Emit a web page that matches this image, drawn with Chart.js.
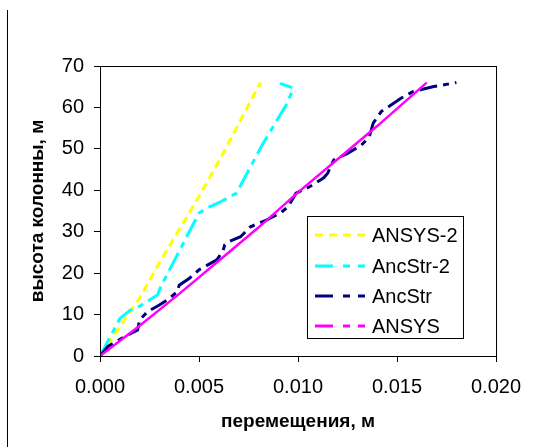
<!DOCTYPE html>
<html>
<head>
<meta charset="utf-8">
<script src="https://cdn.jsdelivr.net/npm/chart.js@4/dist/chart.umd.min.js"></script>
<style>
  body { margin: 0; background: #fff; }
  #wrap { width: 557px; height: 447px; }
</style>
</head>
<body>
<div id="wrap"><canvas id="myChart" width="557" height="447"></canvas></div>
<script>
// ------------------ DATA ------------------
const seriesNames = ['ANSYS-2', 'AncStr-2', 'AncStr', 'ANSYS'];

// ANSYS-2
const ansys2X = [0, 0.001, 0.002, 0.003, 0.004, 0.005, 0.006, 0.007, 0.0081];
const ansys2Y = [0, 7, 14, 22.5, 30.5, 38.5, 47, 56, 66];

// AncStr-2
const ancstr2X = [0, 0.001, 0.0015, 0.002, 0.0026, 0.0029, 0.0031, 0.005, 0.0054, 0.006, 0.0069, 0.0073, 0.0082, 0.0094, 0.0097, 0.00975, 0.0091];
const ancstr2Y = [0, 9, 11, 12, 13.8, 14.7, 17, 34.5, 35.7, 37, 39.3, 43, 51, 60.6, 63.8, 64.7, 65.8];

// AncStr
const ancstrX = [0, 0.0004, 0.0011, 0.0019, 0.002, 0.0024, 0.003, 0.0035, 0.0039, 0.004, 0.0045, 0.005, 0.0059, 0.0062, 0.0063, 0.0065, 0.0071, 0.0076, 0.0084, 0.0091, 0.0095, 0.0099, 0.0106, 0.0113, 0.0115, 0.0118, 0.0125, 0.0132, 0.0136, 0.0138, 0.0142, 0.0152, 0.0158, 0.0168, 0.018];
const ancstrY = [0, 2.3, 4.3, 6.3, 8.7, 10.7, 12.3, 13.9, 15.5, 17.1, 18.7, 20.8, 23.2, 25.2, 26.8, 27.6, 28.8, 31.2, 32.8, 34.5, 36, 39.3, 40.9, 43, 44.1, 47.3, 48.9, 50.9, 52.9, 56.2, 59, 62.2, 63.8, 65, 66];

// ANSYS
const ansysX = [0, 0.002, 0.004, 0.006, 0.008, 0.010, 0.012, 0.014, 0.0165];
const ansysY = [0, 7.3, 15, 23, 31, 39.5, 47.5, 55.5, 66];

// axis ranges
const xMin = 0, xMax = 0.02, xStep = 0.005;
const yMin = 0, yMax = 70, yStep = 10;

const toPoints = (xs, ys) => xs.map((x, i) => ({ x: x, y: ys[i] }));

const FONT = 'Liberation Sans, Arial, sans-serif';

// ------------------ STYLE ------------------
const styles = [
    { color: '#ffff00', width: 3, dash: [8, 5], legendDash: [8, 6] },
    { color: '#00ffff', width: 3, dash: [20, 6, 6, 6], legendDash: [18, 10, 7, 8, 7, 9] },
    { color: '#000080', width: 3, dash: [18, 6, 6, 6], legendDash: [18, 10, 7, 8, 7, 9] },
    { color: '#ff00ff', width: 2.5, dash: [], legendDash: [18, 10, 7, 8, 7, 9] },
];

// frame, left rule and legend box
const extras = {
    id: 'extras',
    afterDraw(chart) {
        const ctx = chart.ctx;
        const a = chart.chartArea;
        ctx.save();
        ctx.strokeStyle = '#000';
        ctx.lineWidth = 1;
        ctx.strokeRect(Math.round(a.left) + 0.5, Math.round(a.top) + 0.5,
            Math.round(a.right - a.left), Math.round(a.bottom - a.top));

        ctx.beginPath();
        ctx.moveTo(7.5, 10);
        ctx.lineTo(7.5, 447);
        ctx.stroke();

        // legend
        const box = { x: 307.5, y: 216.5, w: 156, h: 122 };
        ctx.fillStyle = '#fff';
        ctx.fillRect(box.x, box.y, box.w, box.h);
        ctx.strokeRect(box.x, box.y, box.w, box.h);
        const rows = [235, 266, 296, 326];
        ctx.font = '20px ' + FONT;
        ctx.textBaseline = 'middle';
        ctx.textAlign = 'left';
        seriesNames.forEach((name, i) => {
            const s = styles[i];
            ctx.beginPath();
            ctx.setLineDash(s.legendDash);
            ctx.strokeStyle = s.color;
            ctx.lineWidth = 3;
            ctx.moveTo(315, rows[i]);
            ctx.lineTo(365, rows[i]);
            ctx.stroke();
            ctx.setLineDash([]);
            ctx.fillStyle = '#000';
            ctx.fillText(name, 372, rows[i] + 1);
        });
        ctx.restore();
    }
};

// ------------------ CHART ------------------
function initChart() {
    const ctx = document.getElementById('myChart').getContext('2d');
    const xs = [ansys2X, ancstr2X, ancstrX, ansysX];
    const ys = [ansys2Y, ancstr2Y, ancstrY, ansysY];
    const orders = [3, 2, 1, 0];

    new Chart(ctx, {
        type: 'line',
        data: {
            datasets: seriesNames.map((name, i) => ({
                label: name,
                data: toPoints(xs[i], ys[i]),
                borderColor: styles[i].color,
                borderWidth: styles[i].width,
                borderDash: styles[i].dash,
                pointRadius: 0,
                tension: 0,
                fill: false,
                order: orders[i],
            })),
        },
        options: {
            responsive: false,
            animation: false,
            devicePixelRatio: 1,
            layout: { padding: { top: 66, right: 61, left: 0, bottom: 0 } },
            plugins: {
                legend: { display: false },
                tooltip: { enabled: false },
            },
            scales: {
                x: {
                    type: 'linear',
                    min: xMin,
                    max: xMax,
                    ticks: {
                        stepSize: xStep,
                        color: '#000',
                        padding: 13,
                        font: { family: FONT, size: 20 },
                        callback: (v) => v.toFixed(3),
                    },
                    grid: { drawOnChartArea: false, drawTicks: true, tickLength: 6, color: '#000' },
                    border: { color: '#000', width: 1 },
                    title: {
                        display: true,
                        text: 'перемещения, м',
                        color: '#000',
                        font: { family: FONT, size: 19, weight: 'bold' },
                        padding: { top: 0, bottom: 14 },
                    },
                    afterFit: (scale) => { scale.height = 91; },
                },
                y: {
                    type: 'linear',
                    min: yMin,
                    max: yMax,
                    ticks: {
                        stepSize: yStep,
                        color: '#000',
                        padding: 10,
                        font: { family: FONT, size: 20 },
                    },
                    grid: { drawOnChartArea: false, drawTicks: true, tickLength: 6, color: '#000' },
                    border: { color: '#000', width: 1 },
                    title: {
                        display: true,
                        text: 'высота колонны, м',
                        color: '#000',
                        font: { family: FONT, size: 19, weight: 'bold' },
                        padding: { top: 26, bottom: 0 },
                    },
                    afterFit: (scale) => { scale.width = 100; },
                },
            },
        },
        plugins: [extras],
    });
}

document.addEventListener('DOMContentLoaded', initChart);
</script>
</body>
</html>
